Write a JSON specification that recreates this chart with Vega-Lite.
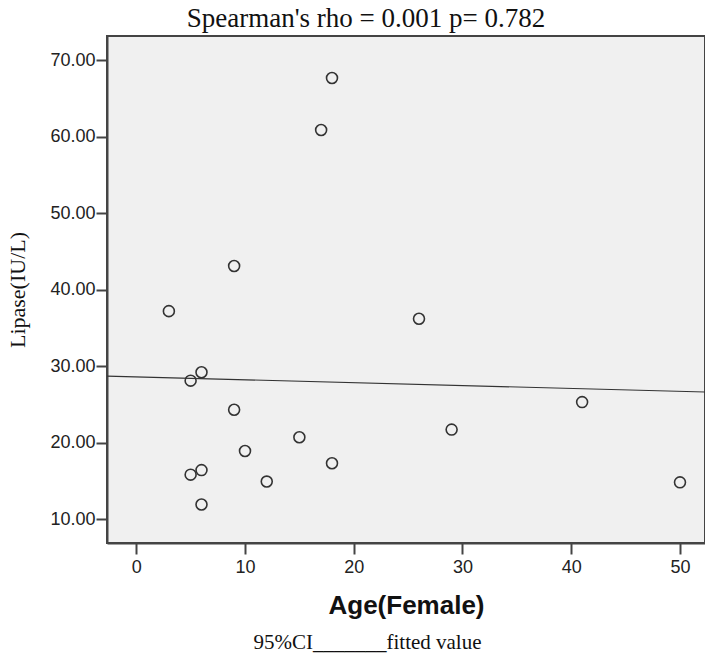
{
  "$schema": "https://vega.github.io/schema/vega-lite/v6.json",
  "autosize": {"type": "none"},
  "padding": {"left": 107, "top": 36, "right": 0, "bottom": 115},
  "width": 598,
  "height": 507,
  "background": "white",
  "title": {
    "text": "Spearman's rho = 0.001 p= 0.782",
    "font": "Liberation Serif",
    "fontSize": 27,
    "fontWeight": "normal",
    "color": "#111",
    "anchor": "middle",
    "dx": -40,
    "offset": 3
  },
  "config": {
    "view": {"fill": "#f0f0f0", "stroke": "#444", "strokeWidth": 2},
    "axis": {"grid": false}
  },
  "resolve": {"axis": {"x": "independent"}},
  "layer": [
    {
      "data": {"values": [
        {"age": 3, "lipase": 37.2},
        {"age": 5, "lipase": 28.1},
        {"age": 6, "lipase": 29.2},
        {"age": 9, "lipase": 24.3},
        {"age": 9, "lipase": 43.1},
        {"age": 17, "lipase": 60.9},
        {"age": 18, "lipase": 67.7},
        {"age": 26, "lipase": 36.2},
        {"age": 5, "lipase": 15.8},
        {"age": 6, "lipase": 16.4},
        {"age": 6, "lipase": 11.9},
        {"age": 10, "lipase": 18.9},
        {"age": 12, "lipase": 14.9},
        {"age": 15, "lipase": 20.7},
        {"age": 18, "lipase": 17.3},
        {"age": 29, "lipase": 21.7},
        {"age": 41, "lipase": 25.3},
        {"age": 50, "lipase": 14.8}
      ]},
      "mark": {"type": "point", "shape": "circle", "filled": false, "stroke": "#333", "strokeWidth": 1.6, "size": 120, "opacity": 1},
      "encoding": {
        "x": {
          "field": "age", "type": "quantitative",
          "scale": {"domain": [-2.69, 52.3], "nice": false, "zero": false},
          "axis": {
            "orient": "bottom",
            "values": [0, 10, 20, 30, 40, 50],
            "title": "Age(Female)",
            "titleFont": "Liberation Sans", "titleFontSize": 26, "titleFontWeight": "bold", "titleColor": "#111",
            "titlePadding": 16,
            "labelFont": "Liberation Sans", "labelFontSize": 18, "labelColor": "#222", "labelPadding": 4,
            "tickSize": 11, "tickColor": "#444", "tickWidth": 2,
            "domainColor": "#444", "domainWidth": 2
          }
        },
        "y": {
          "field": "lipase", "type": "quantitative",
          "scale": {"domain": [6.86, 73.2], "nice": false, "zero": false},
          "axis": {
            "values": [10, 20, 30, 40, 50, 60, 70],
            "format": ".2f",
            "title": "Lipase(IU/L)",
            "titleFont": "Liberation Serif", "titleFontSize": 22, "titleFontWeight": "normal", "titleColor": "#111",
            "titlePadding": 20,
            "labelFont": "Liberation Sans", "labelFontSize": 18, "labelColor": "#222", "labelPadding": 1,
            "tickSize": 11, "tickColor": "#444", "tickWidth": 2,
            "domainColor": "#444", "domainWidth": 2
          }
        }
      }
    },
    {
      "data": {"values": [
        {"age": -2.69, "fit": 28.7},
        {"age": 52.3, "fit": 26.62}
      ]},
      "mark": {"type": "line", "color": "#333", "strokeWidth": 1.2, "clip": true},
      "encoding": {
        "x": {
          "field": "age", "type": "quantitative",
          "axis": {
            "orient": "bottom",
            "title": "95%CI_______fitted value",
            "labels": false, "ticks": false, "domain": false,
            "titleFont": "Liberation Serif", "titleFontSize": 21, "titleFontWeight": "normal", "titleColor": "#111",
            "titlePadding": 0, "offset": 88, "titleX": 260
          }
        },
        "y": {"field": "fit", "type": "quantitative"}
      }
    }
  ]
}
